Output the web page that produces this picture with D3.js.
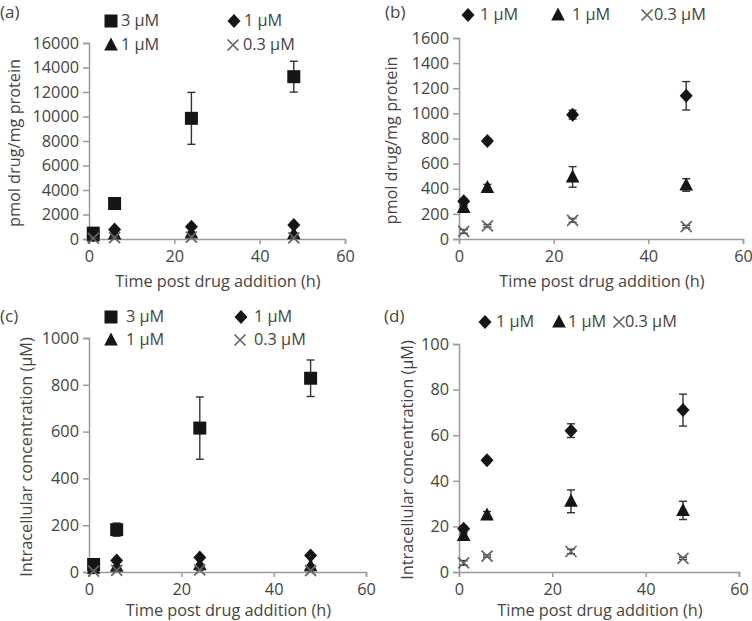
<!DOCTYPE html>
<html><head><meta charset="utf-8">
<script src="https://cdn.jsdelivr.net/npm/d3@7"></script>
<style>
html,body{margin:0;padding:0;background:#fff;}
svg text{font-family:"Open Sans",sans-serif;fill:#444;}
</style></head>
<body>
<svg id="c" width="752" height="621"></svg>
<script>
// ---- data ----
const times = [1, 6, 24, 48];
const xTicks = [0, 20, 40, 60];
const yTicksA = [0, 2000, 4000, 6000, 8000, 10000, 12000, 14000, 16000];
const yTicksB = [0, 200, 400, 600, 800, 1000, 1200, 1400, 1600];
const yTicksC = [0, 200, 400, 600, 800, 1000];
const yTicksD = [0, 20, 40, 60, 80, 100];

// pmol drug / mg protein
const sq3_pmol = [480, 2900, 9850, 13250];
const sq3_pmol_err = [150, 250, 2120, 1260];
const dia1_pmol = [300, 780, 990, 1140];
const dia1_pmol_err = [20, 20, 35, 113];
const tri1_pmol = [250, 410, 494, 430];
const tri1_pmol_err = [15, 25, 82, 50];
const x03_pmol = [60, 105, 148, 98];
const x03_pmol_err = [15, 10, 15, 10];

// intracellular concentration (µM)
const sq3_um = [32, 181, 615, 828];
const sq3_um_err = [8, 28, 133, 78];
const dia1_um = [19, 49, 62, 71];
const dia1_um_err = [1, 1, 3, 7];
const tri1_um = [16, 25, 31, 27];
const tri1_um_err = [1, 1.5, 5, 4];
const x03_um = [4, 7, 9, 6];
const x03_um_err = [1, 0.5, 1, 0.5];

const xLabel = "Time post drug addition (h)";
const yLabelPmol = "pmol drug/mg protein";
const yLabelConc = "Intracellular concentration (\u00B5M)";

const FS = "16.3px";

// ---- marker shapes ----
function markerPath(type) {
  if (type === "square") return "M-6.5,-6.5H6.5V6.5H-6.5Z";
  if (type === "diamond") return "M0,-7L6.5,0L0,7L-6.5,0Z";
  if (type === "triangle") return "M0,-7.5L6.8,5.5L-6.8,5.5Z";
  return "M-5.5,-5.5L5.5,5.5M5.5,-5.5L-5.5,5.5";
}
function drawMarker(g, type, x, y) {
  const p = g.append("path").attr("d", markerPath(type)).attr("transform", `translate(${x},${y})`);
  if (type === "x") p.attr("fill", "none").attr("stroke", "#666").attr("stroke-width", 1.7);
  else p.attr("fill", "#151515");
}

const svg = d3.select("#c");

const panels = [
  { tag: "(a)", tagX: 0, tagY: 18,
    xr: [89, 345], yr: [239, 43], ymax: 16000, yTicks: yTicksA, yLabel: yLabelPmol, yLabX: 15, xLabY: 287,
    series: [
      { type: "square", v: sq3_pmol, e: sq3_pmol_err, name: "3 \u00B5M", lx: 111, ly: 21, tx: 121 },
      { type: "diamond", v: dia1_pmol, e: dia1_pmol_err, name: "1 \u00B5M", lx: 234, ly: 21, tx: 244 },
      { type: "triangle", v: tri1_pmol, e: tri1_pmol_err, name: "1 \u00B5M", lx: 111, ly: 45, tx: 121 },
      { type: "x", v: x03_pmol, e: x03_pmol_err, name: "0.3 \u00B5M", lx: 233, ly: 45, tx: 243 } ] },
  { tag: "(b)", tagX: 385, tagY: 18,
    xr: [459, 743], yr: [239, 38], ymax: 1600, yTicks: yTicksB, yLabel: yLabelPmol, yLabX: 392, xLabY: 287,
    series: [
      { type: "diamond", v: dia1_pmol, e: dia1_pmol_err, name: "1 \u00B5M", lx: 468, ly: 15, tx: 480 },
      { type: "triangle", v: tri1_pmol, e: tri1_pmol_err, name: "1 \u00B5M", lx: 558, ly: 15, tx: 572 },
      { type: "x", v: x03_pmol, e: x03_pmol_err, name: "0.3 \u00B5M", lx: 647, ly: 15, tx: 654 } ] },
  { tag: "(c)", tagX: 0, tagY: 322,
    xr: [89, 366], yr: [572, 338], ymax: 1000, yTicks: yTicksC, yLabel: yLabelConc, yLabX: 27, xLabY: 616,
    series: [
      { type: "square", v: sq3_um, e: sq3_um_err, name: "3 \u00B5M", lx: 111, ly: 317, tx: 126 },
      { type: "diamond", v: dia1_um, e: dia1_um_err, name: "1 \u00B5M", lx: 241, ly: 317, tx: 254 },
      { type: "triangle", v: tri1_um, e: tri1_um_err, name: "1 \u00B5M", lx: 111, ly: 340, tx: 126 },
      { type: "x", v: x03_um, e: x03_um_err, name: "0.3 \u00B5M", lx: 240, ly: 340, tx: 254 } ] },
  { tag: "(d)", tagX: 384, tagY: 322,
    xr: [459, 739], yr: [572, 344], ymax: 100, yTicks: yTicksD, yLabel: yLabelConc, yLabX: 408, xLabY: 616,
    series: [
      { type: "diamond", v: dia1_um, e: dia1_um_err, name: "1 \u00B5M", lx: 485, ly: 322, tx: 496 },
      { type: "triangle", v: tri1_um, e: tri1_um_err, name: "1 \u00B5M", lx: 559, ly: 322, tx: 568 },
      { type: "x", v: x03_um, e: x03_um_err, name: "0.3 \u00B5M", lx: 619, ly: 322, tx: 625 } ] }
];

panels.forEach(P => {
  const g = svg.append("g");
  const x = d3.scaleLinear().domain([0, 60]).range(P.xr);
  const y = d3.scaleLinear().domain([0, P.ymax]).range(P.yr);

  // axes
  const ax = g.append("g").attr("transform", `translate(0,${P.yr[0]})`)
    .call(d3.axisBottom(x).tickValues(xTicks).tickSizeOuter(0).tickSize(5).tickPadding(6));
  const ay = g.append("g").attr("transform", `translate(${P.xr[0]},0)`)
    .call(d3.axisLeft(y).tickValues(P.yTicks).tickSizeOuter(0).tickSize(6).tickPadding(4).tickFormat(d3.format("d")));
  [ax, ay].forEach(a => {
    a.select(".domain").attr("stroke", "#9a9a9a").attr("stroke-width", 1.5);
    a.selectAll(".tick line").attr("stroke", "#9a9a9a").attr("stroke-width", 1.5);
    a.selectAll(".tick text").style("font-family", '"Open Sans",sans-serif').style("font-size", FS).attr("fill", "#444");
  });

  // axis labels
  g.append("text").attr("x", (P.xr[0] + P.xr[1]) / 2 + 1).attr("y", P.xLabY)
    .attr("text-anchor", "middle").style("font-size", FS).text(xLabel);
  const yc = (P.yr[0] + P.yr[1]) / 2 + 2;
  g.append("text").attr("transform", `translate(${P.yLabX + 5},${yc}) rotate(-90)`)
    .attr("text-anchor", "middle").style("font-size", FS).text(P.yLabel);

  // panel tag
  g.append("text").attr("x", P.tagX).attr("y", P.tagY).style("font-size", "17px").text(P.tag);

  // series
  P.series.forEach(S => {
    const sg = g.append("g");
    S.v.forEach((v, i) => {
      const cx = x(times[i]), cy = y(v);
      const top = y(v + S.e[i]), bot = y(Math.max(0, v - S.e[i]));
      sg.append("line").attr("x1", cx).attr("x2", cx).attr("y1", top).attr("y2", bot)
        .attr("stroke", "#333").attr("stroke-width", 1.4);
      [top, bot].forEach(yy => sg.append("line").attr("x1", cx - 4).attr("x2", cx + 4).attr("y1", yy).attr("y2", yy)
        .attr("stroke", "#333").attr("stroke-width", 1.4));
      drawMarker(sg, S.type, cx, cy);
    });
    // legend
    drawMarker(g, S.type, S.lx, S.ly);
    g.append("text").attr("x", S.tx).attr("y", S.ly + 4.5).style("font-size", FS).text(S.name);
  });
});
</script>
</body></html>
